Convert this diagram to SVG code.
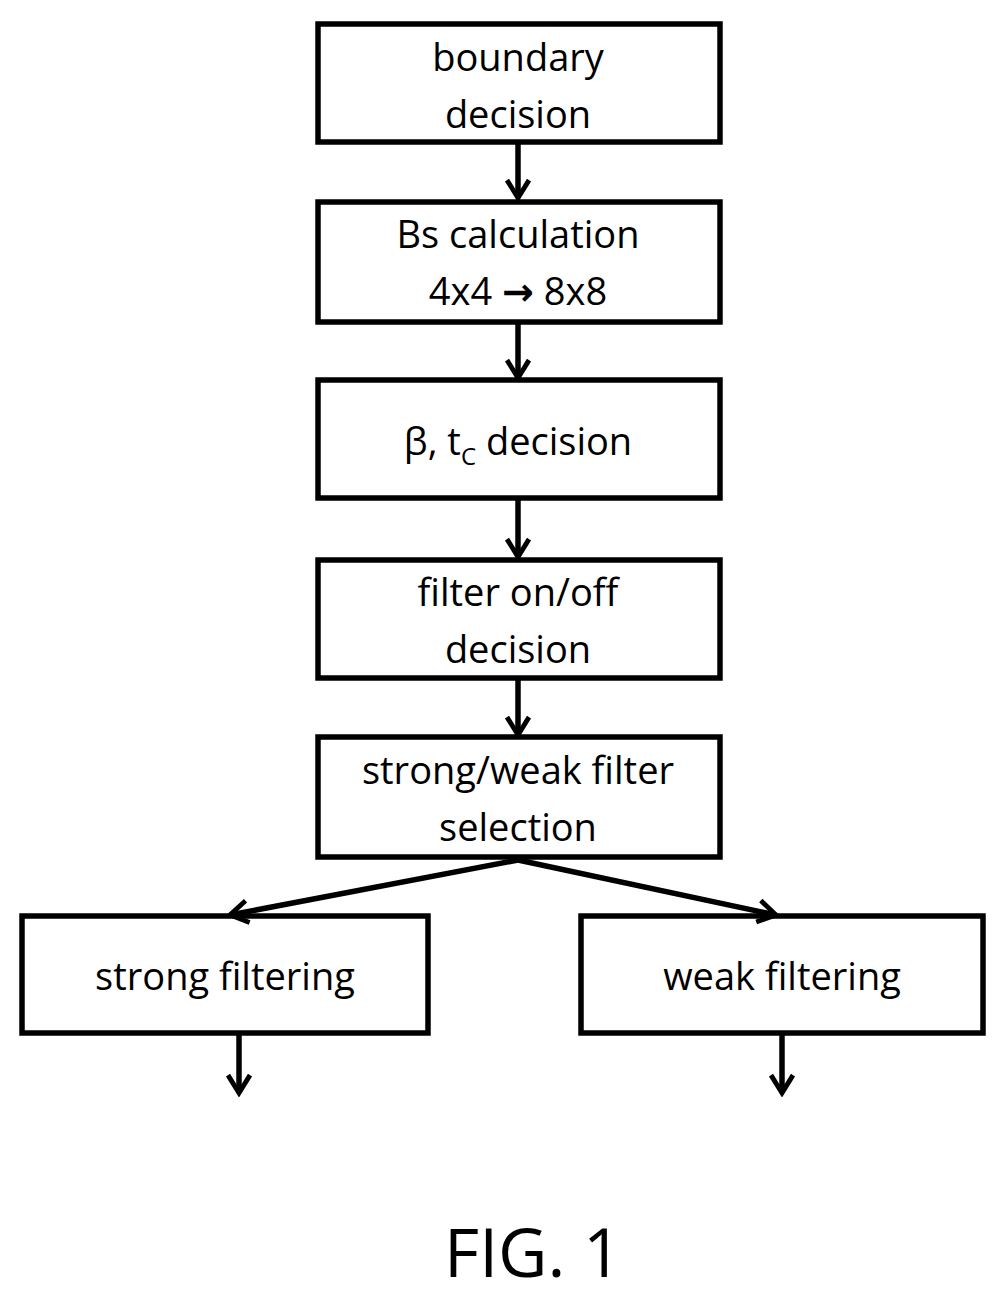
<svg xmlns="http://www.w3.org/2000/svg" width="1006" height="1297" viewBox="0 0 1006 1297">
<style>
.b{fill:#fff;stroke:#000;stroke-width:5.5}
.t{font-family:"Open Sans","Liberation Sans",sans-serif;font-size:38px;text-anchor:middle;fill:#000}
.c{stroke:#000;stroke-width:5.5;fill:none}
</style>
<defs>
<marker id="a" viewBox="0 0 20 20" refX="17" refY="10" markerWidth="5" markerHeight="5" markerUnits="strokeWidth" orient="auto">
<path d="M4,2 L17,10 L4,18" fill="none" stroke="#000" stroke-width="3.5"/>
</marker>
</defs>
<rect width="1006" height="1297" fill="#fff"/>
<g id="n1"><rect class="b" x="318" y="24" width="402" height="118"/><text class="t" x="518" y="71">boundary</text><text class="t" x="518" y="128">decision</text></g>
<g id="n2"><rect class="b" x="318" y="202" width="402" height="120"/><text class="t" x="518" y="248">Bs calculation</text><text class="t" x="518" y="305">4x4 <tspan font-family="DejaVu Sans" font-weight="bold">→</tspan> 8x8</text></g>
<g id="n3"><rect class="b" x="318" y="380" width="402" height="118"/><text class="t" x="518" y="455">β, t<tspan font-size="24" dy="10">C</tspan><tspan dy="-10"> decision</tspan></text></g>
<g id="n4"><rect class="b" x="318" y="560" width="402" height="118"/><text class="t" x="518" y="606">filter on/off</text><text class="t" x="518" y="663">decision</text></g>
<g id="n5"><rect class="b" x="318" y="737" width="402" height="120"/><text class="t" x="518" y="784">strong/weak filter</text><text class="t" x="518" y="841">selection</text></g>
<g id="n6"><rect class="b" x="22" y="916" width="406" height="117"/><text class="t" x="225" y="990">strong filtering</text></g>
<g id="n7"><rect class="b" x="581" y="916" width="402" height="117"/><text class="t" x="782" y="990">weak filtering</text></g>
<g id="connectors">
<line class="c" x1="518" y1="142" x2="518" y2="198" marker-end="url(#a)"/>
<line class="c" x1="518" y1="322" x2="518" y2="378" marker-end="url(#a)"/>
<line class="c" x1="518" y1="498" x2="518" y2="557" marker-end="url(#a)"/>
<line class="c" x1="518" y1="678" x2="518" y2="735" marker-end="url(#a)"/>
<line class="c" x1="518" y1="860" x2="230" y2="915" marker-end="url(#a)"/>
<line class="c" x1="518" y1="860" x2="776" y2="915" marker-end="url(#a)"/>
<line class="c" x1="239" y1="1033" x2="239" y2="1093" marker-end="url(#a)"/>
<line class="c" x1="782" y1="1033" x2="782" y2="1093" marker-end="url(#a)"/>
</g>
<text x="533" y="1277" style="font-family:'Open Sans','Liberation Sans',sans-serif;font-size:68px;text-anchor:middle">FIG. 1</text>
</svg>
